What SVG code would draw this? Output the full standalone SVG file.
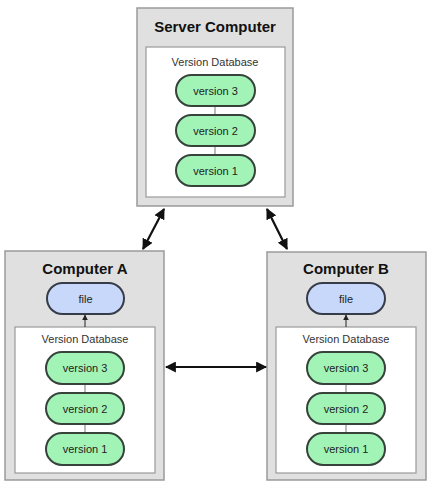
<svg xmlns="http://www.w3.org/2000/svg" width="431" height="485" viewBox="0 0 431 485">
<style>
.outer{fill:#e0e0e0;stroke:#9a9a9a;stroke-width:1.5}
.inner{fill:#ffffff;stroke:#9a9a9a;stroke-width:1.2}
.ver{fill:#a2f4b6;stroke:#36423a;stroke-width:2}
.file{fill:#c8d8fa;stroke:#363c48;stroke-width:2}
.title{font-family:"Liberation Sans",Arial,sans-serif;font-weight:bold;font-size:15px;fill:#111;text-anchor:middle}
.lbl{font-family:"Liberation Sans",Arial,sans-serif;font-size:11px;fill:#222;text-anchor:middle}
.db{font-family:"Liberation Sans",Arial,sans-serif;font-size:11px;fill:#333;text-anchor:middle}
.link{stroke:#777;stroke-width:1}
.arrow{stroke:#111;stroke-width:2.2;fill:none;marker-start:url(#ah);marker-end:url(#ah)}
.small{stroke:#222;stroke-width:1;fill:none;marker-end:url(#sh)}
</style>
<defs>
<marker id="ah" viewBox="0 0 10 10" refX="9" refY="5" markerWidth="5" markerHeight="5" orient="auto-start-reverse" markerUnits="strokeWidth">
<path d="M0,0 L10,5 L0,10 z" fill="#111"/>
</marker>
<marker id="sh" viewBox="0 0 10 10" refX="9" refY="5" markerWidth="6" markerHeight="6" orient="auto" markerUnits="strokeWidth">
<path d="M0,0 L10,5 L0,10 z" fill="#222"/>
</marker>
</defs>

<g id="server">
<rect class="outer" x="137" y="8" width="156" height="198"/>
<text class="title" x="215" y="32">Server Computer</text>
<rect class="inner" x="146" y="47" width="139" height="150"/>
<text class="db" x="215" y="66">Version Database</text>
<line class="link" x1="215" y1="106" x2="215" y2="115"/>
<line class="link" x1="215" y1="146" x2="215" y2="155"/>
<g id="server-v3"><rect class="ver" x="176" y="75" width="79" height="31" rx="15.5"/><text class="lbl" x="215.5" y="94.5">version 3</text></g>
<g id="server-v2"><rect class="ver" x="176" y="115" width="79" height="31" rx="15.5"/><text class="lbl" x="215.5" y="134.5">version 2</text></g>
<g id="server-v1"><rect class="ver" x="176" y="155" width="79" height="31" rx="15.5"/><text class="lbl" x="215.5" y="174.5">version 1</text></g>
</g>

<g id="computerA">
<rect class="outer" x="5" y="251" width="159" height="229"/>
<text class="title" x="85" y="274">Computer A</text>
<g id="A-file"><rect class="file" x="47" y="283" width="77" height="31" rx="15.5"/><text class="lbl" x="85.5" y="302.5">file</text></g>
<rect class="inner" x="15" y="327" width="140" height="146"/>
<text class="db" x="85" y="343">Version Database</text>
<line class="link" x1="85" y1="384" x2="85" y2="393"/>
<line class="link" x1="85" y1="424" x2="85" y2="433"/>
<g id="A-v3"><rect class="ver" x="46" y="352" width="78" height="32" rx="16"/><text class="lbl" x="85" y="372">version 3</text></g>
<g id="A-v2"><rect class="ver" x="46" y="393" width="78" height="31" rx="15.5"/><text class="lbl" x="85" y="412.5">version 2</text></g>
<g id="A-v1"><rect class="ver" x="46" y="433" width="78" height="32" rx="16"/><text class="lbl" x="85" y="453">version 1</text></g>
</g>

<g id="computerB">
<rect class="outer" x="267" y="252" width="159" height="228"/>
<text class="title" x="346" y="274">Computer B</text>
<g id="B-file"><rect class="file" x="307" y="283" width="78" height="31" rx="15.5"/><text class="lbl" x="346" y="302.5">file</text></g>
<rect class="inner" x="276" y="327" width="140" height="146"/>
<text class="db" x="346" y="343">Version Database</text>
<line class="link" x1="346" y1="384" x2="346" y2="393"/>
<line class="link" x1="346" y1="424" x2="346" y2="433"/>
<g id="B-v3"><rect class="ver" x="307" y="352" width="78" height="32" rx="16"/><text class="lbl" x="346" y="372">version 3</text></g>
<g id="B-v2"><rect class="ver" x="307" y="393" width="78" height="31" rx="15.5"/><text class="lbl" x="346" y="412.5">version 2</text></g>
<g id="B-v1"><rect class="ver" x="307" y="433" width="78" height="32" rx="16"/><text class="lbl" x="346" y="453">version 1</text></g>
</g>

<g id="connectors">
<line class="arrow" x1="164" y1="209" x2="143" y2="249"/>
<line class="arrow" x1="267" y1="209" x2="287" y2="249"/>
<line class="arrow" x1="166" y1="367" x2="266" y2="367"/>
<line class="small" x1="85" y1="327" x2="85" y2="315"/>
<line class="small" x1="346" y1="327" x2="346" y2="315"/>
</g>
</svg>
